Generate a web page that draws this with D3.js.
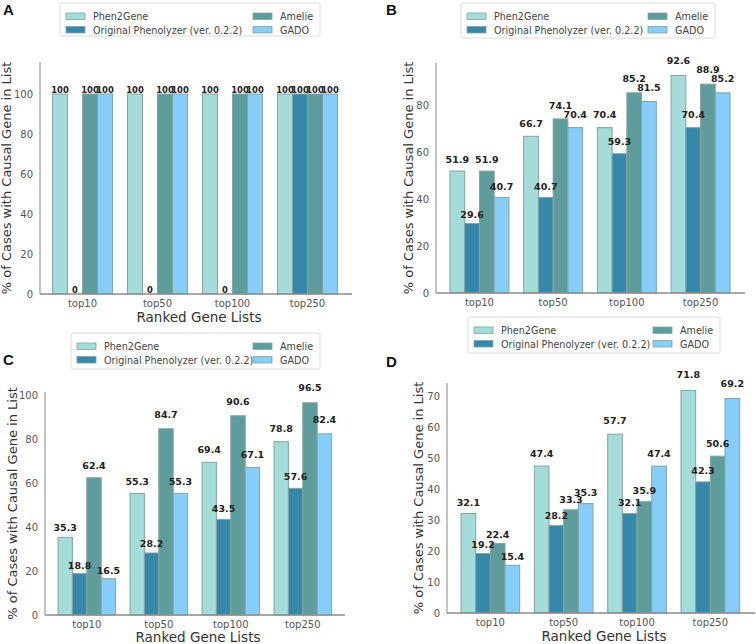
<!DOCTYPE html>
<html lang="en">
<head>
<meta charset="utf-8">
<title>Phen2Gene ranked gene lists</title>
<script src="https://d3js.org/d3.v7.min.js"></script>
<style>
  body { margin: 0; background: #fff; }
  svg { display: block; font-family: "DejaVu Sans", sans-serif; }
</style>
</head>
<body>
<svg></svg>
<script>
// categories and series
var lists = ["top10", "top50", "top100", "top250"];
var tools = ["Phen2Gene", "Original Phenolyzer (ver. 0.2.2)", "Amelie", "GADO"];
var colors = ["#a3dcd8", "#3688ab", "#5f9c9c", "#87cdf9"];

// % of cases with causal gene, one array per tool, per panel
var aPhen2Gene = [100, 100, 100, 100];
var aPhenolyzer = [0, 0, 0, 100];
var aAmelie = [100, 100, 100, 100];
var aGado = [100, 100, 100, 100];

var bPhen2Gene = [51.9, 66.7, 70.4, 92.6];
var bPhenolyzer = [29.6, 40.7, 59.3, 70.4];
var bAmelie = [51.9, 74.1, 85.2, 88.9];
var bGado = [40.7, 70.4, 81.5, 85.2];

var cPhen2Gene = [35.3, 55.3, 69.4, 78.8];
var cPhenolyzer = [18.8, 28.2, 43.5, 57.6];
var cAmelie = [62.4, 84.7, 90.6, 96.5];
var cGado = [16.5, 55.3, 67.1, 82.4];

var dPhen2Gene = [32.1, 47.4, 57.7, 71.8];
var dPhenolyzer = [19.2, 28.2, 32.1, 42.3];
var dAmelie = [22.4, 33.3, 35.9, 50.6];
var dGado = [15.4, 35.3, 47.4, 69.2];

var ticksA = [0, 20, 40, 60, 80, 100];
var ticksB = [0, 20, 40, 60, 80];
var ticksC = [0, 20, 40, 60, 80, 100];
var ticksD = [0, 10, 20, 30, 40, 50, 60, 70];

var W = 756, H = 644;
var svg = d3.select("svg").attr("width", W).attr("height", H);

// layout of each panel (pixels)
var panels = [
  {letter: "A", series: [aPhen2Gene, aPhenolyzer, aAmelie, aGado], ticks: ticksA,
   axisX: [40, 352], band: [45, 345], base: 294, top: 62, ymax: 116, lift: 0, gap: 1, labelSize: 8.4,
   letterPos: [3, 15], legend: [60, 3, 260, 33], titleX: 11, tickY: 307, xTitleY: 322},
  {letter: "B", series: [bPhen2Gene, bPhenolyzer, bAmelie, bGado], ticks: ticksB,
   axisX: [436, 745], band: [442.6, 737.4], base: 293, top: 63, ymax: 97.9, lift: 0.041, gap: 3, labelSize: 9.5,
   letterPos: [386, 15], legend: [461, 3, 254, 35], titleX: 413, tickY: 306, xTitleY: null},
  {letter: "C", series: [cPhen2Gene, cPhenolyzer, cAmelie, cGado], ticks: ticksC,
   axisX: [45, 345], band: [50.8, 338.8], base: 615, top: 392, ymax: 101.4, lift: 0.041, gap: 3, labelSize: 9.5,
   letterPos: [3, 365], legend: [71, 333, 249, 36], titleX: 17, tickY: 628, xTitleY: 642},
  {letter: "D", series: [dPhen2Gene, dPhenolyzer, dAmelie, dGado], ticks: ticksD,
   axisX: [447, 755], band: [453.7, 747], base: 613, top: 383, ymax: 74.2, lift: 0.041, gap: 3, labelSize: 9.5,
   letterPos: [386, 367], legend: [468, 317, 252, 36], titleX: 423, tickY: 626, xTitleY: 641}
];

panels.forEach(function(p) {
  var g = svg.append("g");

  var x = d3.scaleBand().domain(lists).range(p.band).paddingInner(0.2).paddingOuter(0.1);
  var xs = d3.scaleBand().domain(d3.range(tools.length)).range([0, x.bandwidth()]);
  var y = d3.scaleLinear().domain([0, p.ymax]).range([p.base, p.top]);

  // y axis line
  g.append("line").attr("x1", p.axisX[0]).attr("x2", p.axisX[0])
    .attr("y1", p.top).attr("y2", p.base).attr("stroke", "#9a9a9a").attr("stroke-width", 1.2);

  // y tick labels
  g.selectAll(".ytick").data(p.ticks).enter().append("text")
    .attr("x", p.axisX[0] - 7).attr("y", function(d) { return y(d); })
    .attr("dy", "0.35em").attr("text-anchor", "end")
    .attr("font-size", 10).attr("fill", "#555").text(function(d) { return d; });

  // bars
  tools.forEach(function(t, ti) {
    var vals = p.series[ti];
    g.selectAll(".bar" + ti).data(vals).enter().append("rect")
      .attr("x", function(d, i) { return x(lists[i]) + xs(ti); })
      .attr("width", xs.bandwidth())
      .attr("y", function(d) { return y(d); })
      .attr("height", function(d) { return p.base - y(d); })
      .attr("fill", colors[ti])
      .attr("stroke", "#86a3a3").attr("stroke-width", 1);
  });

  // value labels
  tools.forEach(function(t, ti) {
    var vals = p.series[ti];
    g.selectAll(".lab" + ti).data(vals).enter().append("text")
      .attr("x", function(d, i) { return x(lists[i]) + xs(ti) + xs.bandwidth() / 2; })
      .attr("y", function(d) { return y(d * (1 + p.lift)) - p.gap; })
      .attr("text-anchor", "middle").attr("font-size", p.labelSize).attr("font-weight", "bold")
      .attr("fill", "#222").text(function(d) { return d; });
  });

  // x axis line
  g.append("line").attr("x1", p.axisX[0]).attr("x2", p.axisX[1])
    .attr("y1", p.base).attr("y2", p.base).attr("stroke", "#8c8c8c").attr("stroke-width", 1.5);

  // x tick labels
  g.selectAll(".xtick").data(lists).enter().append("text")
    .attr("x", function(d) { return x(d) + x.bandwidth() / 2; })
    .attr("y", p.tickY).attr("text-anchor", "middle")
    .attr("font-size", 10).attr("fill", "#555").text(function(d) { return d; });

  // axis titles
  if (p.xTitleY) {
    g.append("text").attr("x", (p.axisX[0] + p.axisX[1]) / 2 + 3).attr("y", p.xTitleY)
      .attr("text-anchor", "middle").attr("font-size", 13.5).attr("fill", "#333")
      .text("Ranked Gene Lists");
  }
  g.append("text")
    .attr("transform", "translate(" + p.titleX + "," + ((p.top + p.base) / 2) + ") rotate(-90)")
    .attr("text-anchor", "middle").attr("font-size", 13).attr("fill", "#333")
    .text("% of Cases with Causal Gene in List");

  // panel letter
  g.append("text").attr("x", p.letterPos[0]).attr("y", p.letterPos[1])
    .attr("font-family", "Liberation Sans, Arial, sans-serif").attr("font-weight", "bold")
    .attr("font-size", 15).attr("fill", "#111").text(p.letter);

  // legend
  var L = p.legend;
  var lg = g.append("g").attr("transform", "translate(" + L[0] + "," + L[1] + ")");
  lg.append("rect").attr("width", L[2]).attr("height", L[3]).attr("rx", 2)
    .attr("fill", "#fff").attr("stroke", "#dcdcdc");
  var items = lg.selectAll(".item").data(tools).enter().append("g")
    .attr("transform", function(d, i) {
      var col = i < 2 ? 0 : 1, row = i % 2;
      return "translate(" + (col === 0 ? 6 : L[2] - 67) + "," + (10 + row * 13.5) + ")";
    });
  items.append("rect").attr("width", 19).attr("height", 6.5)
    .attr("fill", function(d, i) { return colors[i]; })
    .attr("stroke", "#86a3a3").attr("stroke-width", 0.8);
  items.append("text").attr("x", 27).attr("y", 7)
    .attr("font-size", 9.6).attr("fill", "#444").text(function(d) { return d; });
});
</script>
</body>
</html>
